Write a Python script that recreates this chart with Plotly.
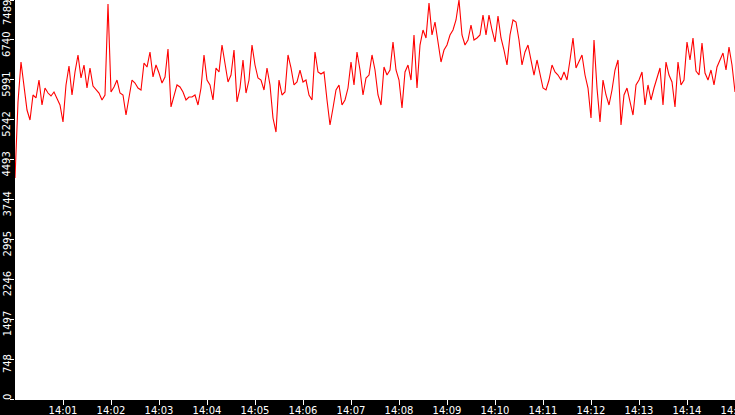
import pandas as pd
import plotly.graph_objects as go

# sampled values, one every 3.75 s from 14:00:00
values_a = [4148, 5574, 6325, 5894, 5424, 5237, 5706, 5650, 5987, 5518,
            5837, 5743, 5687, 5762, 5650, 5518, 5199, 5894, 6250, 5706,
            6138, 6457, 6025, 6269, 5837, 6213, 5875, 5800, 5743, 5612,
            5706, 7414, 5762, 5856, 5987, 5743, 5706, 5330, 5668, 5987,
            5931, 5837, 5800, 6306, 6231, 6513, 6044, 6269, 6119, 5931,
            6044, 6569, 5481, 5668, 5894]
values_b = [5856, 5762, 5612, 5668, 5668, 5706, 5518, 5837, 6457, 5987,
            5894, 5612, 6213, 6138, 6644, 6325, 5950, 6081, 6550, 5575,
            5837, 6363, 5743, 5987, 6644, 6269, 6025, 5987, 5800, 6213,
            5894, 5274, 5011, 5987, 5706, 5762, 6457, 6213, 5894, 5950,
            6175, 5950, 5987, 5706, 5612, 6513, 6138, 6100, 6138, 5612,
            5143, 5462, 5800, 5894, 5518, 5612, 5837, 6325, 5894, 6513,
            6175, 5706, 6025, 6081, 6457, 6175, 5706, 5518, 6231]
values_c = [6081, 6175, 6701, 6175, 5987, 5462, 6138, 6269, 5987, 6832,
            5837, 6644, 6926, 6776, 7433, 6832, 7076, 6738, 6325, 6550,
            6644, 6832, 6926, 7114, 7489, 6832, 6644, 6738, 7020, 6738,
            6776, 6832, 7207, 6832, 7207, 6926, 6701, 7189, 6776, 6550,
            6269, 6832, 7114, 7076, 6738, 6269, 6513, 6644, 6363, 6081,
            6363, 6119, 5837, 5800, 5987, 6269, 6138, 6081]
values_d = [5987, 6138, 5987, 6363, 6776, 6213, 6325, 6457, 6081, 5837,
            5274, 6738, 5837, 5199, 5987, 5706, 5518, 5800, 6175, 6363,
            5143, 5706, 5837, 5612, 5330, 5894, 5987, 6138, 5518, 5894,
            5612, 5837, 6025, 6213, 5518, 6325]
values_e = [6081, 5950, 5481, 6325, 5894, 5987, 6701, 6363, 6776, 6156,
            6081, 6682, 6119, 5987, 6175, 5894, 6231, 6363, 6494, 6175,
            6607, 6269, 5762]

values = values_a + values_b + values_c + values_d + values_e
times = pd.date_range("2024-01-01 14:00:00", periods=len(values), freq="3750ms")

y_tick_vals = [0, 748.9, 1497.8, 2246.7, 2995.6, 3744.5, 4493.4, 5242.3, 5991.2, 6740.1, 7489]
y_tick_text = ["0", "748", "1497", "2246", "2995", "3744", "4493", "5242", "5991", "6740", "7489"]
x_tick_text = ["14:01", "14:02", "14:03", "14:04", "14:05", "14:06", "14:07", "14:08",
               "14:09", "14:10", "14:11", "14:12", "14:13", "14:14", "14:15"]
x_tick_vals = [pd.Timestamp("2024-01-01 " + t) for t in x_tick_text]

fig = go.Figure()
fig.add_trace(go.Scatter(x=times, y=values, mode="lines",
                         line=dict(color="#ff0000", width=1.1)))

font = dict(family="DejaVu Sans", size=10, color="white")

# y labels drawn as rotated annotations so they sit just under their ticks
for i, (v, t) in enumerate(zip(y_tick_vals, y_tick_text)):
    shift = -5
    if i == 0:
        shift = 2
    elif i == len(y_tick_vals) - 1:
        shift = -13
    fig.add_annotation(x=0, xref="paper", y=v, yref="y", text=t, textangle=-90,
                       showarrow=False, font=font, xanchor="center", yanchor="middle",
                       xshift=-8, yshift=shift)

fig.update_layout(
    width=735, height=415,
    paper_bgcolor="black", plot_bgcolor="white",
    margin=dict(l=15, r=0, t=0, b=16),
    showlegend=False,
    xaxis=dict(range=[pd.Timestamp("2024-01-01 14:00:00"), pd.Timestamp("2024-01-01 14:15:00")],
               tickmode="array", tickvals=x_tick_vals, ticktext=x_tick_text,
               ticks="outside", ticklen=5, tickcolor="white", tickfont=font,
               ticklabelstandoff=-3,
               showgrid=False, zeroline=False, showline=True, linecolor="white",
               ticklabeloverflow="allow", automargin=False),
    yaxis=dict(range=[0, 7489], tickmode="array", tickvals=y_tick_vals,
               showticklabels=False,
               ticks="outside", ticklen=4, tickcolor="white",
               showgrid=False, zeroline=False, showline=False, automargin=False),
)

# drop the page margin so the chart sits at the window corner
fig.write_html("out.html", config={"displayModeBar": False},
               post_script="document.body.style.margin='0';")
